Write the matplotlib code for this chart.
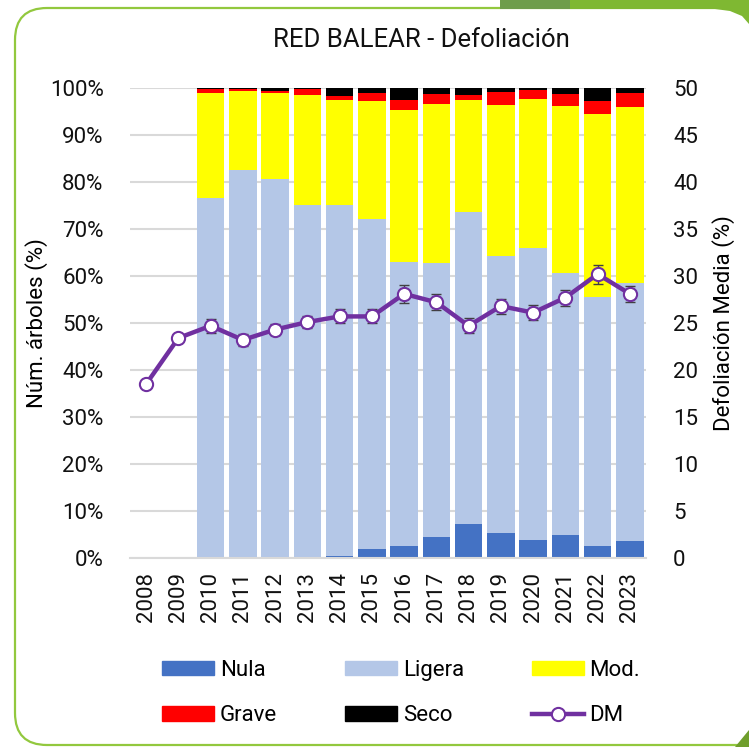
import matplotlib
matplotlib.use("Agg")
import matplotlib.pyplot as plt
import numpy as np
from matplotlib.patches import FancyBboxPatch, Polygon, Patch
from matplotlib.lines import Line2D

plt.rcParams['font.family'] = ['Roboto', 'DejaVu Sans']

years = [str(y) for y in range(2008, 2024)]
nula   = [0, 0, 0.0, 0.0, 0.0, 0.0, 0.4, 1.9, 2.6, 4.5, 7.3, 5.4, 3.9, 4.9, 2.6, 3.7]
ligera = [0, 0, 76.7, 82.6, 80.6, 75.1, 74.6, 70.2, 60.4, 58.2, 66.3, 58.9, 62.1, 55.8, 53.0, 54.8]
mod    = [0, 0, 22.3, 16.8, 18.4, 23.4, 22.5, 25.2, 32.4, 34.0, 23.8, 32.1, 31.7, 35.5, 38.9, 37.5]
grave  = [0, 0, 0.7, 0.4, 0.4, 1.3, 0.9, 1.6, 2.0, 2.0, 1.1, 2.7, 1.9, 2.5, 2.8, 3.0]
seco   = [0, 0, 0.3, 0.2, 0.6, 0.2, 1.6, 1.1, 2.6, 1.3, 1.5, 0.9, 0.4, 1.3, 2.7, 1.0]
dm     = [18.5, 23.4, 24.7, 23.2, 24.3, 25.1, 25.7, 25.7, 28.1, 27.2, 24.7, 26.8, 26.1, 27.7, 30.2, 28.1]
dm_err = [0, 0, 0.75, 0.6, 0.6, 0.65, 0.75, 0.75, 0.95, 0.85, 0.8, 0.8, 0.8, 0.85, 1.0, 0.85]

W, H = 749, 747
FS = 16
fig = plt.figure(figsize=(W / 100, H / 100), dpi=100)

# decorations
deco = fig.add_axes([0, 0, 1, 1], zorder=-5)
deco.set_xlim(0, W)
deco.set_ylim(H, 0)
deco.axis('off')
deco.add_patch(FancyBboxPatch((15, 8), 770 - 15, 745 - 8,
                              boxstyle='round,pad=0,rounding_size=32',
                              fc='white', ec='#92c83e', lw=1.6))
deco.add_patch(Polygon([(500, 0), (572, 0), (572, 9), (500, 9)], closed=True,
                       fc='#6e9d4a', ec='none'))
deco.add_patch(Polygon([(570, 0), (749, 0), (749, 24), (742, 16), (730, 11), (715, 9), (570, 9)],
                       closed=True, fc='#7fb832', ec='none'))
deco.add_patch(Polygon([(749, 730), (749, 747), (735, 747)], closed=True,
                       fc='#6f9e2c', ec='none'))

ax = fig.add_axes([130 / W, 1 - 558 / H, (646 - 130) / W, (558 - 88) / H])
x = np.arange(len(years))
bw = 0.86
colors = ['#4472c4', '#b4c7e7', '#ffff00', '#ff0000', '#000000']
series = [nula, ligera, mod, grave, seco]
bottom = np.zeros(len(years))
for s, c in zip(series, colors):
    ax.bar(x, s, bw, bottom=bottom, color=c, zorder=2)
    bottom += np.array(s)

ax.set_xlim(-0.5, len(years) - 0.5)
ax.set_ylim(0, 100)
ax.set_yticks(np.arange(0, 101, 10))
ax.set_yticklabels([f'{v}%' for v in range(0, 101, 10)])
ax.set_xticks(x)
ax.set_xticklabels(years, rotation=90)
ax.yaxis.grid(True, color='#d9d9d9', lw=1.5, zorder=0)
ax.set_axisbelow(True)
for sp in ['top', 'right', 'left']:
    ax.spines[sp].set_visible(False)
ax.spines['bottom'].set_color('#d9d9d9')
ax.spines['bottom'].set_linewidth(1.5)
ax.tick_params(axis='both', length=0, labelsize=FS, colors='#111111')
ax.tick_params(axis='y', pad=19)
ax.tick_params(axis='x', pad=10)
ax.set_ylabel('Núm. árboles (%)', fontsize=FS)
ax.yaxis.set_label_coords((48 - 130) / 516, 0.5)
ax.patch.set_alpha(0)

ax2 = ax.twinx()
ax2.set_ylim(0, 50)
ax2.set_yticks(np.arange(0, 51, 5))
ax2.tick_params(axis='y', length=0, labelsize=FS, pad=19.5, colors='#111111')
for sp in ax2.spines.values():
    sp.set_visible(False)
ax2.errorbar(x, dm, yerr=dm_err, fmt='none', ecolor='#404040', elinewidth=1.0,
             capsize=3.5, capthick=1.0, zorder=3)
ax2.plot(x, dm, color='#7030a0', lw=3.2, marker='o', ms=9.5, mfc='white',
         mec='#7030a0', mew=1.5, zorder=4)
ax2.set_ylabel('Defoliación Media (%)', fontsize=FS)
ax2.yaxis.set_label_coords((712 - 130) / 516, 0.5)

fig.text(421 / W, 1 - 40 / H, 'RED BALEAR - Defoliación', ha='center', va='center',
         fontsize=18.5, color='#111111')

handles = [Patch(color=colors[0]), Patch(color=colors[3]),
           Patch(color=colors[1]), Patch(color=colors[4]),
           Patch(color=colors[2]),
           Line2D([], [], color='#7030a0', lw=3.2, marker='o', ms=9.5, mfc='white',
                  mec='#7030a0', mew=1.5)]
labels = ['Nula', 'Grave', 'Ligera', 'Seco', 'Mod.', 'DM']
fig.legend(handles, labels, ncol=3, loc='center', bbox_to_anchor=(401 / W, 1 - 693 / H),
           frameon=False, fontsize=FS, handlelength=2.35, handleheight=0.63,
           handletextpad=0.25, columnspacing=3.05, labelspacing=1.1)

fig.savefig('out.png', dpi=100)
